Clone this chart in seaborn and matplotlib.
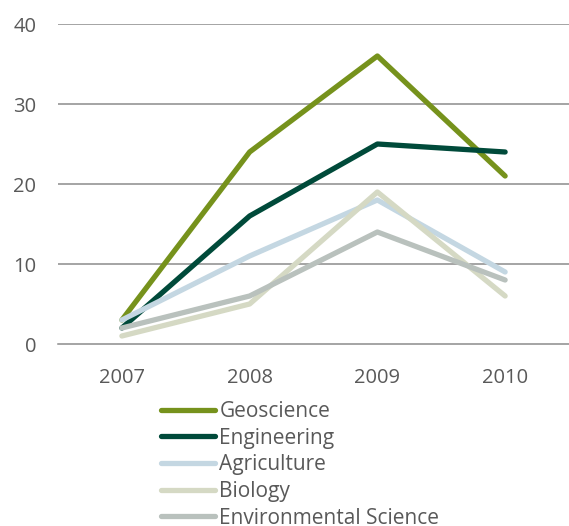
import matplotlib
matplotlib.use("Agg")
import matplotlib.pyplot as plt
import seaborn as sns
import pandas as pd

years = ["2007", "2008", "2009", "2010"]
geoscience = [3, 24, 36, 21]
engineering = [2, 16, 25, 24]
agriculture = [3, 11, 18, 9]
biology = [1, 5, 19, 6]
environmental = [2, 6, 14, 8]
series_names = ["Geoscience", "Engineering", "Agriculture", "Biology", "Environmental Science"]
colors = ["#76921C", "#004A3A", "#C4D7E2", "#D5D9C4", "#B9C1BD"]
y_ticks = [0, 10, 20, 30, 40]

sns.set_theme(style="white")
plt.rcParams['font.family'] = ['Open Sans', 'DejaVu Sans']

rows = []
for name, vals in zip(series_names, [geoscience, engineering, agriculture, biology, environmental]):
    for i, (y, v) in enumerate(zip(years, vals)):
        rows.append({"x": i, "year": y, "value": v, "series": name})
df = pd.DataFrame(rows)

fig = plt.figure(figsize=(5.69, 5.26), dpi=100)
ax = fig.add_axes([58/569, (526-344)/526, (569-58)/569, 320/526])

for v in y_ticks[1:]:
    ax.axhline(v, color="#8C8C8C", lw=1.1, zorder=0)

sns.lineplot(data=df, x="x", y="value", hue="series", hue_order=series_names,
             palette=colors, lw=3.8, ax=ax, legend=True, sort=False)
for line in ax.get_lines():
    line.set_solid_capstyle("round")

ax.set_xlim(-0.5, 3.5)
ax.set_ylim(0, 40)
ax.set_yticks(y_ticks)
ax.set_yticklabels([str(t) for t in y_ticks])
ax.set_xticks(range(len(years)))
ax.set_xticklabels(years)
ax.set_xticks([-0.5, 0.5, 1.5, 2.5, 3.5], minor=True)
ax.tick_params(axis="x", which="major", length=0, pad=17.5, labelsize=14.5, labelcolor="#595959")
ax.tick_params(axis="x", which="minor", length=6, width=1.1, color="#8C8C8C", direction="out")
ax.tick_params(axis="y", length=0, pad=15.5, labelsize=14.5, labelcolor="#595959")
ax.set_xlabel("")
ax.set_ylabel("")
for s in ["top", "right", "left"]:
    ax.spines[s].set_visible(False)
ax.spines["bottom"].set_color("#8C8C8C")
ax.spines["bottom"].set_linewidth(1.1)
ax.spines["bottom"].set_zorder(0)

handles, labels = ax.get_legend_handles_labels()
for h in handles:
    h.set_solid_capstyle("round")
ax.legend(handles, labels, loc="upper left", bbox_to_anchor=(161/569, (526-401)/526),
          bbox_transform=fig.transFigure, frameon=False, fontsize=15,
          handlelength=2.6, handletextpad=0.2, labelspacing=0.27, borderpad=0,
          borderaxespad=0, labelcolor="#595959")

fig.savefig("out.png", dpi=100)
